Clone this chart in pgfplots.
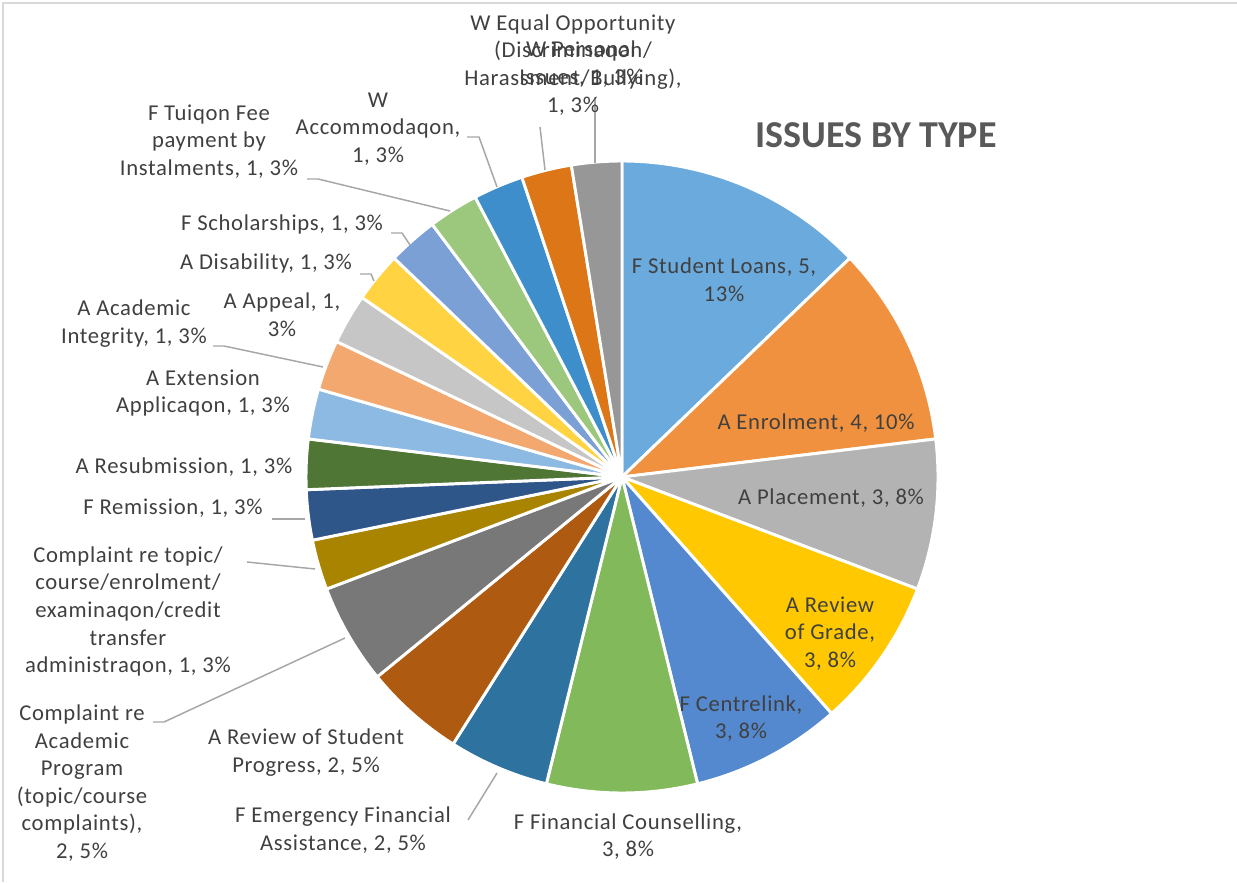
\documentclass[border=0pt]{standalone}
\usepackage{pgfplots}
\pgfplotsset{compat=1.18}
\usepackage{fontspec}
\setmainfont{Carlito}
\newfontfamily\labfont{Carlito}[LetterSpace=3]
\definecolor{txt}{HTML}{404040}
\definecolor{ttl}{HTML}{595959}
\definecolor{lead}{HTML}{A6A6A6}
\definecolor{brd}{HTML}{D9D9D9}
\definecolor{c1}{HTML}{6BAADD}
\definecolor{c2}{HTML}{F0913F}
\definecolor{c3}{HTML}{B3B3B3}
\definecolor{c4}{HTML}{FFC800}
\definecolor{c5}{HTML}{5589CF}
\definecolor{c6}{HTML}{82B95A}
\definecolor{c7}{HTML}{2E72A0}
\definecolor{c8}{HTML}{AE5A10}
\definecolor{c9}{HTML}{787878}
\definecolor{c10}{HTML}{A88400}
\definecolor{c11}{HTML}{2F5688}
\definecolor{c12}{HTML}{507636}
\definecolor{c13}{HTML}{8CBAE3}
\definecolor{c14}{HTML}{F3A86F}
\definecolor{c15}{HTML}{C6C6C6}
\definecolor{c16}{HTML}{FFD342}
\definecolor{c17}{HTML}{7BA0D6}
\definecolor{c18}{HTML}{9CC87E}
\definecolor{c19}{HTML}{3E8ECC}
\definecolor{c20}{HTML}{DC7616}
\definecolor{c21}{HTML}{979797}
% pie: centre (622,405) in pixel units, radius 316, total 39
\newcommand\cum{0}
\newcommand{\slice}[2]{%
  \pgfmathsetmacro\sliceA{90-\cum*360/39}%
  \pgfmathsetmacro\sliceB{90-(\cum+#1)*360/39}%
  \edef\temp{\noexpand\addplot[fill=#2, draw=white, line width=2.2pt, line join=round, domain=\sliceB:\sliceA, samples=60]
    ({622+316*cos(x)},{405+316*sin(x)}) -- (axis cs:622,405) -- cycle;}%
  \temp
  \pgfmathsetmacro\newcum{\cum+#1}\xdef\cum{\newcum}%
}
\newcommand{\lbl}[3]{\node[font=\labfont\fontsize{17}{20.7}\selectfont, text=txt, align=center] at (axis cs:#1,#2) {#3};}
\begin{document}
\begin{tikzpicture}
\begin{axis}[name=ax, width=927.75pt, height=661.5pt, scale only axis,
  xmin=0, xmax=1237, ymin=0, ymax=882, hide axis, clip=false]
% slices: value, colour (clockwise from top)
\slice{5}{c1}  % F Student Loans
\slice{4}{c2}  % A Enrolment
\slice{3}{c3}  % A Placement
\slice{3}{c4}  % A Review of Grade
\slice{3}{c5}  % F Centrelink
\slice{3}{c6}  % F Financial Counselling
\slice{2}{c7}  % F Emergency Financial Assistance
\slice{2}{c8}  % A Review of Student Progress
\slice{2}{c9}  % Complaint re Academic Program
\slice{1}{c10} % Complaint re topic/course...
\slice{1}{c11} % F Remission
\slice{1}{c12} % A Resubmission
\slice{1}{c13} % A Extension Application
\slice{1}{c14} % A Academic Integrity
\slice{1}{c15} % A Appeal
\slice{1}{c16} % A Disability
\slice{1}{c17} % F Scholarships
\slice{1}{c18} % F Tuition Fee
\slice{1}{c19} % W Accommodation
\slice{1}{c20} % W Personal Issues
\slice{1}{c21} % W Equal Opportunity
% leader lines
\addplot[lead, line width=1.1pt] coordinates {(468,62) (497,109)};
\addplot[lead, line width=1.1pt] coordinates {(153,160) (164,160) (345,244)};
\addplot[lead, line width=1.1pt] coordinates {(247,320) (315,313)};
\addplot[lead, line width=1.1pt] coordinates {(272,363) (305,363)};
\addplot[lead, line width=1.1pt] coordinates {(213,536) (224,536) (323,515)};
\addplot[lead, line width=1.1pt] coordinates {(360,608) (371,608) (374,601)};
\addplot[lead, line width=1.1pt] coordinates {(391,649) (402,649) (410,637)};
\addplot[lead, line width=1.1pt] coordinates {(307,703) (318,703) (450,671)};
\addplot[lead, line width=1.1pt] coordinates {(467,745) (479,745) (497,695)};
\addplot[lead, line width=1.1pt] coordinates {(540,755) (545,712)};
\addplot[lead, line width=1.1pt] coordinates {(595,785) (595,719)};
% border
\draw[brd, line width=1.6pt] (axis cs:3,0) -- (axis cs:3,879) -- (axis cs:1237,879);
% labels
\lbl{724}{602}{F Student Loans, 5,\\13\%}
\lbl{816}{459}{A Enrolment, 4, 10\%}
\lbl{831}{384}{A Placement, 3, 8\%}
\lbl{830}{248.5}{A Review\\of Grade,\\3, 8\%}
\lbl{741}{163.5}{F Centrelink,\\3, 8\%}
\lbl{628}{45.5}{F Financial Counselling,\\3, 8\%}
\lbl{343}{52}{F Emergency Financial\\Assistance, 2, 5\%}
\lbl{306}{129.5}{A Review of Student\\Progress, 2, 5\%}
\lbl{82}{99}{Complaint re\\Academic\\Program\\(topic/course\\complaints),\\2, 5\%}
\lbl{128}{270.5}{Complaint re topic/\\course/enrolment/\\examinaqon/credit\\transfer\\administraqon, 1, 3\%}
\lbl{173}{374}{F Remission, 1, 3\%}
\lbl{184}{415}{A Resubmission, 1, 3\%}
\lbl{203}{489}{A Extension\\Applicaqon, 1, 3\%}
\lbl{134}{558.5}{A Academic\\Integrity, 1, 3\%}
\lbl{282}{567}{A Appeal, 1,\\3\%}
\lbl{266}{619}{A Disability, 1, 3\%}
\lbl{282}{658}{F Scholarships, 1, 3\%}
\lbl{209}{740.5}{F Tuiqon Fee\\payment by\\Instalments, 1, 3\%}
\lbl{378}{753}{W\\Accommodaqon,\\1, 3\%}
\lbl{573}{817}{W Equal Opportunity\\(Discriminaqon/\\Harassment/Bullying),\\1, 3\%}
\lbl{581}{818}{W Personal\\Issues, 1, 3\%}
\node[font=\fontsize{28.5}{33}\selectfont\bfseries, text=ttl] at (axis cs:876,747) {ISSUES BY TYPE};
\end{axis}
\pgfresetboundingbox
\path (ax.south west) rectangle (ax.north east);
\end{tikzpicture}
\end{document}
